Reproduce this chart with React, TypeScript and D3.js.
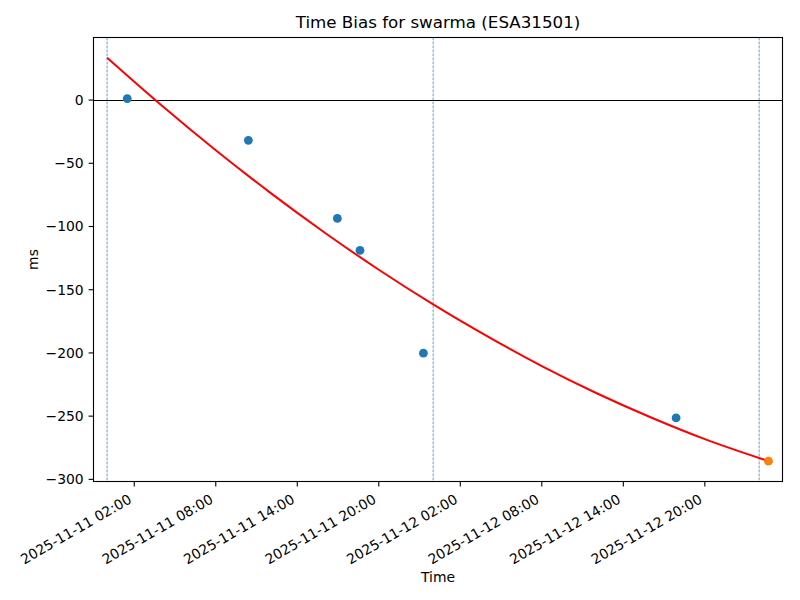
import React from "react";
import * as d3 from "d3";

const pointTimes = [
  "2025-11-11T01:29:00Z",
  "2025-11-11T10:24:00Z",
  "2025-11-11T16:57:00Z",
  "2025-11-11T18:37:00Z",
  "2025-11-11T23:17:00Z",
  "2025-11-12T17:53:00Z",
];
const pointValues = [1.2, -31.8, -93.6, -118.9, -200.2, -251.4];

const lastTime = "2025-11-13T00:41:00Z";
const lastValue = -285.6;

const fitTimes = [
  "2025-11-11T00:00:00Z",
  "2025-11-11T04:00:00Z",
  "2025-11-11T08:00:00Z",
  "2025-11-11T12:00:00Z",
  "2025-11-11T16:00:00Z",
  "2025-11-11T20:00:00Z",
  "2025-11-12T00:00:00Z",
  "2025-11-12T04:00:00Z",
  "2025-11-12T08:00:00Z",
  "2025-11-12T12:00:00Z",
  "2025-11-12T16:00:00Z",
  "2025-11-12T20:00:00Z",
  "2025-11-13T00:41:00Z",
];
const fitValues = [33.5, -4.1, -39.7, -73.2, -104.7, -134.2, -161.6, -186.9, -210.4, -231.7, -250.9, -268.2, -285.6];

const dayLines = ["2025-11-11T00:00:00Z", "2025-11-12T00:00:00Z", "2025-11-13T00:00:00Z"];

const xTickTimes = [
  "2025-11-11T02:00:00Z",
  "2025-11-11T08:00:00Z",
  "2025-11-11T14:00:00Z",
  "2025-11-11T20:00:00Z",
  "2025-11-12T02:00:00Z",
  "2025-11-12T08:00:00Z",
  "2025-11-12T14:00:00Z",
  "2025-11-12T20:00:00Z",
];
const yTicks = [0, -50, -100, -150, -200, -250, -300];

const xDomain = ["2025-11-10T23:00:00Z", "2025-11-13T01:43:00Z"];
const yDomain = [-301.7, 49.5];

const FONT = "DejaVu Sans, sans-serif";

export default function App() {
  const L = 93.5, R = 782.5, T = 37.5, B = 481.5;
  const x = d3.scaleUtc().domain(xDomain.map((d) => new Date(d))).range([L, R]);
  const y = d3.scaleLinear().domain(yDomain).range([B, T]);
  const fmt = d3.utcFormat("%Y-%m-%d %H:%M");
  const fitData = fitTimes.map((t, i) => [x(new Date(t)), y(fitValues[i])] as [number, number]);
  const line = d3.line().curve(d3.curveMonotoneX)(fitData) || "";
  const yfmt = (v: number) => (v < 0 ? "\u2212" + Math.abs(v) : String(v));
  const crisp = (v: number) => Math.floor(v) + 0.5;

  return (
    <svg width={800} height={600} style={{ position: "absolute", left: 0, top: 0, background: "#fff" }} fontFamily={FONT}>
      <rect x={0} y={0} width={800} height={600} fill="#fff" />
      <defs>
        <clipPath id="clip">
          <rect x={L} y={T} width={R - L} height={B - T} />
        </clipPath>
      </defs>
      <g clipPath="url(#clip)">
        {dayLines.map((d) => (
          <line key={d} x1={x(new Date(d))} x2={x(new Date(d))} y1={T} y2={B} stroke="#1f77b4" strokeWidth={0.7} strokeDasharray="2.8,1.2" />
        ))}
        <line x1={L} x2={R} y1={crisp(y(0))} y2={crisp(y(0))} stroke="#000" strokeWidth={1} />
        <path d={line} fill="none" stroke="#ff0000" strokeWidth={2} />
        {pointTimes.map((t, i) => (
          <circle key={t} cx={x(new Date(t))} cy={y(pointValues[i])} r={4.4} fill="#1f77b4" />
        ))}
        <circle cx={x(new Date(lastTime))} cy={y(lastValue)} r={4.4} fill="#ff7f0e" />
      </g>
      <rect x={L} y={T} width={R - L} height={B - T} fill="none" stroke="#000" strokeWidth={1.1} />
      {xTickTimes.map((t) => {
        const px = x(new Date(t));
        return (
          <g key={t}>
            <line x1={px} x2={px} y1={B} y2={B + 4.9} stroke="#000" strokeWidth={1.1} />
            <text
              transform={`translate(${px - 1.7},${B + 20.6}) rotate(-30)`}
              textAnchor="end"
              fontSize={13.9}
              fill="#000"
            >
              {fmt(new Date(t))}
            </text>
          </g>
        );
      })}
      {yTicks.map((v) => (
        <g key={v}>
          <line x1={L - 4.9} x2={L} y1={y(v)} y2={y(v)} stroke="#000" strokeWidth={1.1} />
          <text x={L - 9.8} y={y(v)} dy="0.35em" textAnchor="end" fontSize={13.9} fill="#000">
            {yfmt(v)}
          </text>
        </g>
      ))}
      <text x={(L + R) / 2} y={581.5} textAnchor="middle" fontSize={13.9} fill="#000">Time</text>
      <text transform={`translate(38,${(T + B) / 2}) rotate(-90)`} textAnchor="middle" fontSize={13.9} fill="#000">ms</text>
      <text x={(L + R) / 2} y={28} textAnchor="middle" fontSize={16.7} fill="#000">Time Bias for swarma (ESA31501)</text>
    </svg>
  );
}
